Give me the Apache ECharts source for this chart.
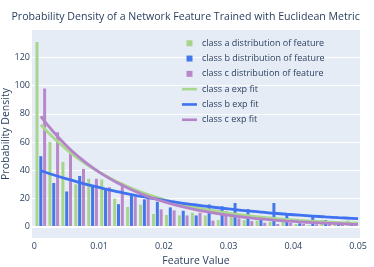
<!DOCTYPE html>
<html>
<head>
<meta charset="utf-8">
<script src="https://cdn.jsdelivr.net/npm/echarts@6/dist/echarts.min.js"></script>
<style>html,body{margin:0;padding:0;background:#fff}#c{width:374px;height:267px}</style>
</head>
<body>
<div id="c"></div>
<script>
var binCenters = [0.001,0.003,0.005,0.007,0.009,0.011,0.013,0.015,0.017,0.019,0.021,0.023,0.025,0.027,0.029,0.031,0.033,0.035,0.037,0.039,0.041,0.043,0.045,0.047,0.049];
var classA = [131,60,46,30,34,33.5,20,14,15.6,9,8.3,8,9.9,8,4.7,9.5,4.7,4.3,3.5,3.5,1.9,1.2,4.7,2.8,4.3];
var classB = [50,31,25,36,29.5,27,16,22.5,19.4,17.7,13.7,11.3,8,15.8,14.5,16.8,12.4,7.2,16.8,9.7,2.4,8.3,4.7,3.5,3.3];
var classC = [98,67,55,41,34,28,31,21,22,12.3,11.6,8,9.9,4.3,11.1,5.9,4,2.8,1.9,2.8,1.9,1.7,1.9,1.4,1.7];

var fitX = [0.001,0.003,0.005,0.007,0.009,0.011,0.013,0.015,0.017,0.019,0.021,0.023,0.025,0.027,0.029,0.031,0.033,0.035,0.037,0.039,0.041,0.043,0.045,0.047,0.049,0.05];
var fitA = [72.3,62.9,54.7,47.6,41.5,36.1,31.4,27.3,23.8,20.7,18.0,15.7,13.6,11.9,10.3,8.98,7.81,6.80,5.92,5.15,4.48,3.90,3.39,2.95,2.57,2.45];
var fitB = [39.7,36.7,33.9,31.3,28.9,26.7,24.7,22.8,21.1,19.5,18.0,16.6,15.4,14.2,13.1,12.1,11.2,10.3,9.56,8.83,8.16,7.54,6.96,6.43,5.94,5.71];
var fitC = [78.3,67.0,57.3,49.0,41.9,35.9,30.7,26.2,22.4,19.2,16.4,14.0,12.0,10.3,8.8,7.52,6.43,5.50,4.71,4.03,3.44,2.95,2.52,2.16,1.84,1.70];

var xTicks = [0,0.01,0.02,0.03,0.04,0.05];
var yTicks = [0,20,40,60,80,100,120];

var names = ['class a distribution of feature','class b distribution of feature','class c distribution of feature','class a exp fit','class b exp fit','class c exp fit'];
var colors = {a:'#A8D48C', b:'#4478E9', c:'#B888CA'};
var lineColors = {a:'#A9D78E', b:'#3F72F0', c:'#B584C8'};

function pairs(xs, ys){ return xs.map(function(x,i){ return [x, ys[i]]; }); }

var FONT = '"Open Sans", Arial, sans-serif';
var TXT = '#2a3f5f';
var sq = 'path://M0,0H6V6H0Z';
var ln = 'path://M0,0H15V2.6H0Z';

var chart = echarts.init(document.getElementById('c'), null, {renderer:'canvas'});
chart.setOption({
  animation: false,
  backgroundColor: '#fff',
  textStyle: {fontFamily: FONT, color: TXT},
  title: {
    text: 'Probability Density of a Network Feature Trained with Euclidean Metric',
    left: 11.5, top: 11.5, padding: 0,
    textStyle: {fontFamily: FONT, fontSize: 10.6, fontWeight: 'normal', color: TXT}
  },
  legend: {
    orient: 'vertical', left: 182, top: 35.6, padding: 0,
    itemWidth: 15, itemHeight: 6, itemGap: 0,
    textStyle: {fontFamily: FONT, fontSize: 9, color: TXT, lineHeight: 15.3},
    data: [
      {name: names[0], icon: sq}, {name: names[1], icon: sq}, {name: names[2], icon: sq},
      {name: names[3], icon: ln}, {name: names[4], icon: ln}, {name: names[5], icon: ln}
    ]
  },
  grid: {left: 32, top: 30, width: 328, height: 208, show: true, backgroundColor: '#E5ECF6', borderWidth: 0, containLabel: false, outerBoundsMode: 'none'},
  xAxis: {
    type: 'value', min: -0.00036, max: 0.0503,
    name: 'Feature Value', nameLocation: 'middle', nameGap: 18,
    nameTextStyle: {fontFamily: FONT, fontSize: 10.5, color: TXT},
    axisLine: {show: false}, axisTick: {show: false, customValues: xTicks},
    splitLine: {show: false},
    axisLabel: {customValues: xTicks, margin: 4, fontFamily: FONT, fontSize: 9, color: TXT,
      formatter: function(v){ return String(+v.toFixed(4)); }}
  },
  yAxis: {
    type: 'value', min: -8, max: 139.5,
    name: 'Probability Density', nameLocation: 'middle', nameGap: 20, nameMoveOverlap: false,
    nameTextStyle: {fontFamily: FONT, fontSize: 10.5, color: TXT},
    axisLine: {show: false}, axisTick: {show: false, customValues: yTicks},
    splitLine: {show: true, lineStyle: {color: '#ffffff', width: 1}},
    axisLabel: {customValues: yTicks, margin: 2, fontFamily: FONT, fontSize: 9, color: TXT}
  },
  series: [
    {name: names[0], type: 'bar', data: pairs(binCenters, classA), barWidth: 3, barGap: '27%', itemStyle: {color: colors.a},
      markLine: {silent: true, symbol: 'none', label: {show: false}, lineStyle: {color: '#fff', width: 2, type: 'solid'}, data: [{yAxis: 0}]}},
    {name: names[1], type: 'bar', data: pairs(binCenters, classB), barWidth: 3, barGap: '27%', itemStyle: {color: colors.b}},
    {name: names[2], type: 'bar', data: pairs(binCenters, classC), barWidth: 3, barGap: '27%', itemStyle: {color: colors.c}},
    {name: names[3], type: 'line', data: pairs(fitX, fitA), showSymbol: false, symbol: 'none', smooth: true, z: 5, lineStyle: {color: lineColors.a, width: 2.8}, itemStyle: {color: lineColors.a}},
    {name: names[4], type: 'line', data: pairs(fitX, fitB), showSymbol: false, symbol: 'none', smooth: true, z: 5, lineStyle: {color: lineColors.b, width: 2.8}, itemStyle: {color: lineColors.b}},
    {name: names[5], type: 'line', data: pairs(fitX, fitC), showSymbol: false, symbol: 'none', smooth: true, z: 5, lineStyle: {color: lineColors.c, width: 2.8}, itemStyle: {color: lineColors.c}}
  ]
});
</script>
</body>
</html>
